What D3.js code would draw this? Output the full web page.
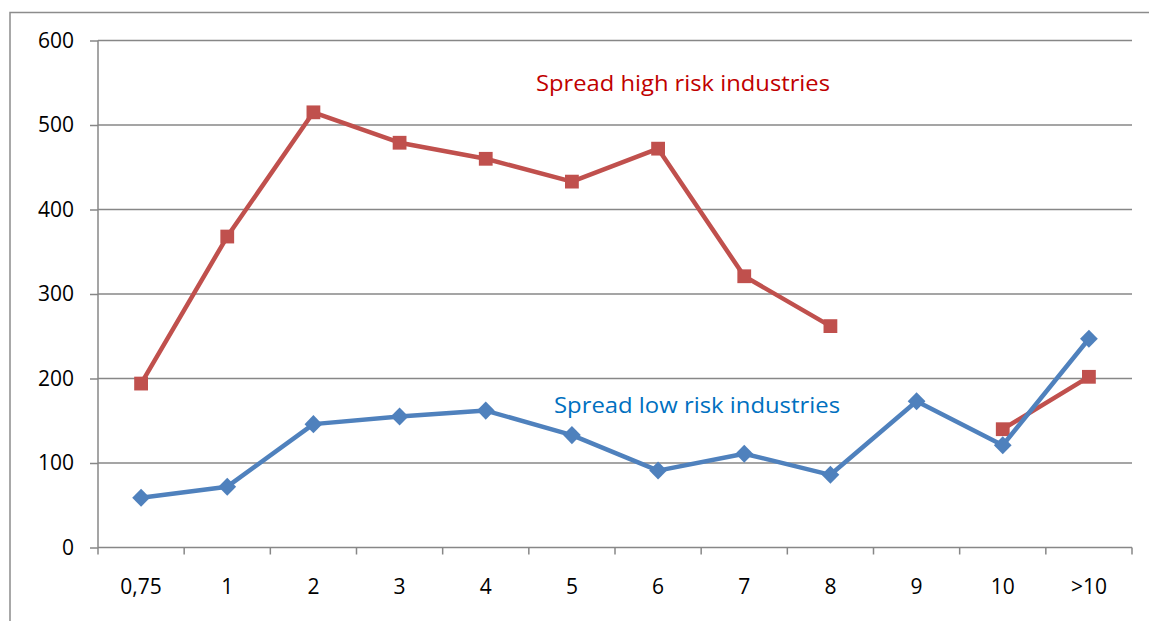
<!DOCTYPE html>
<html>
<head>
<meta charset="utf-8">
<script src="https://cdn.jsdelivr.net/npm/d3@7"></script>
<style>
  html, body { margin: 0; padding: 0; background: #fff; }
  svg { display: block; }
  text { font-family: "Open Sans", "Noto Sans", sans-serif; }
</style>
</head>
<body>
<svg id="chart" width="1149" height="621"></svg>
<script>
// Maturity buckets (years) on the x axis
const categories = ["0,75", "1", "2", "3", "4", "5", "6", "7", "8", "9", "10", ">10"];
// Spread in basis points; null = no observation for that bucket
const highRisk = [194, 368, 515, 479, 460, 433, 472, 321, 262, null, 140, 202];
const lowRisk  = [59, 72, 146, 155, 162, 133, 91, 111, 86, 173, 121, 247];
const yTicks = [0, 100, 200, 300, 400, 500, 600];

const svg = d3.select("#chart");
const W = 1149, H = 621;
const plotLeft = 98, plotRight = 1132, plotTop = 40.5, plotBottom = 547.5;

// outer chart frame
svg.append("rect")
  .attr("x", 10).attr("y", 12.5)
  .attr("width", W + 20).attr("height", H + 20)
  .attr("fill", "none").attr("stroke", "#8c8c8c").attr("stroke-width", 1.5);

const x = d3.scaleBand().domain(categories).range([plotLeft, plotRight]);
const y = d3.scaleLinear().domain([0, 600]).range([plotBottom, plotTop]);

// horizontal gridlines
svg.append("g")
  .selectAll("line")
  .data(yTicks.filter(d => d > 0))
  .join("line")
  .attr("x1", plotLeft).attr("x2", plotRight)
  .attr("y1", d => y(d)).attr("y2", d => y(d))
  .attr("stroke", "#878787").attr("stroke-width", 1.5);

// y axis
const yAxis = svg.append("g")
  .attr("transform", `translate(${plotLeft},0)`)
  .call(d3.axisLeft(y).tickValues(yTicks).tickSize(8).tickPadding(16).tickFormat(d3.format("d")));
yAxis.select(".domain").attr("stroke", "#878787").attr("stroke-width", 1.5).attr("d", `M0,${plotTop}V${plotBottom}`);
yAxis.selectAll(".tick line").attr("stroke", "#878787").attr("stroke-width", 1.5);
yAxis.selectAll(".tick text").attr("fill", "#000").style("font-size", "21px")
  .style("font-family", "'Open Sans', sans-serif");

// x axis: category boundary ticks
const xAxisG = svg.append("g").attr("transform", `translate(0,${plotBottom})`);
xAxisG.append("line").attr("x1", plotLeft).attr("x2", plotRight).attr("y1", 0).attr("y2", 0)
  .attr("stroke", "#878787").attr("stroke-width", 1.5);
const bounds = categories.map(c => x(c)).concat([x(categories[categories.length - 1]) + x.bandwidth()]);
xAxisG.selectAll("line.tk").data(bounds).join("line").attr("class", "tk")
  .attr("x1", d => d).attr("x2", d => d).attr("y1", 0).attr("y2", 7)
  .attr("stroke", "#878787").attr("stroke-width", 1.5);
xAxisG.selectAll("text").data(categories).join("text")
  .attr("x", d => x(d) + x.bandwidth() / 2)
  .attr("y", 46)
  .attr("text-anchor", "middle")
  .attr("fill", "#000")
  .style("font-size", "21px")
  .text(d => d);

const cx = d => x(d) + x.bandwidth() / 2;

function drawSeries(values, color, shape) {
  const pts = categories.map((c, i) => ({ c, v: values[i] }));
  const line = d3.line()
    .defined(d => d.v !== null)
    .x(d => cx(d.c))
    .y(d => y(d.v));
  svg.append("path")
    .datum(pts)
    .attr("d", line)
    .attr("fill", "none")
    .attr("stroke", color)
    .attr("stroke-width", 4.5)
    .attr("stroke-linejoin", "round");
  const sym = d3.symbol().type(shape === "square" ? d3.symbolSquare : d3.symbolDiamond)
    .size(shape === "square" ? 190 : 130);
  svg.append("g").selectAll("path")
    .data(pts.filter(d => d.v !== null))
    .join("path")
    .attr("transform", d => `translate(${cx(d.c)},${y(d.v)})` + (shape === "diamond" ? " scale(1.45,0.85)" : ""))
    .attr("d", sym)
    .attr("fill", color);
}

drawSeries(highRisk, "#C0504D", "square");
drawSeries(lowRisk, "#4F81BD", "diamond");

// series labels
svg.append("text").attr("x", 536).attr("y", 91)
  .attr("fill", "#C00000").style("font-size", "22px")
  .attr("textLength", 294).attr("lengthAdjust", "spacingAndGlyphs")
  .text("Spread high risk industries");
svg.append("text").attr("x", 554).attr("y", 413)
  .attr("fill", "#0070C0").style("font-size", "22px")
  .attr("textLength", 286).attr("lengthAdjust", "spacingAndGlyphs")
  .text("Spread low risk industries");
</script>
</body>
</html>
